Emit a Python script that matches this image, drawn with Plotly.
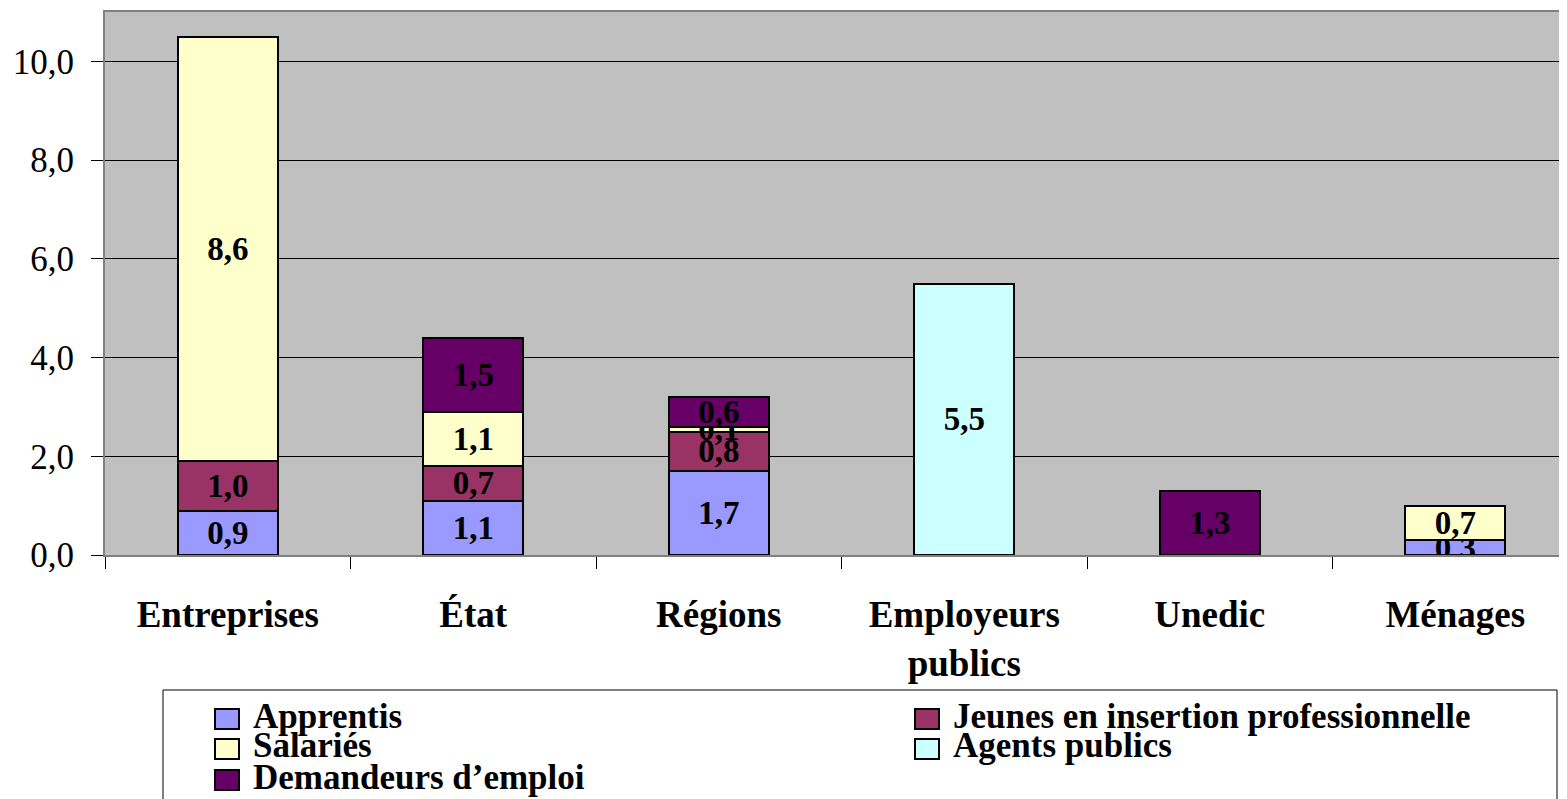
import plotly.graph_objects as go

categories = ["Entreprises", "État", "Régions", "Employeurs<br>publics", "Unedic", "Ménages"]

series_names = ["Apprentis", "Jeunes en insertion professionnelle", "Salariés",
                "Agents publics", "Demandeurs d’emploi"]
apprentis = [0.9, 1.1, 1.7, None, None, 0.3]
jeunes = [1.0, 0.7, 0.8, None, None, None]
salaries = [8.6, 1.1, 0.1, None, None, 0.7]
agents = [None, None, None, 5.5, None, None]
demandeurs = [None, 1.5, 0.6, None, 1.3, None]
series_values = [apprentis, jeunes, salaries, agents, demandeurs]
colors = ["#9999FF", "#993366", "#FFFFCC", "#CCFFFF", "#660066"]

y_ticks = [0, 2, 4, 6, 8, 10]

FONT = "Liberation Serif, Times New Roman, serif"
OFF = 8  # default page body margin
W, H = 1567 - OFF, 799 - OFF
ML, MT, MR = 105 - OFF, 12 - OFF, 0
MB = H - (555 - OFF)
PW = W - ML - MR
PH = H - MT - MB

def px_x(p):
    return (p - OFF - ML) / PW

def px_y(p):
    return (H - MB - (p - OFF)) / PH

fig = go.Figure()
for name, vals, col in zip(series_names, series_values, colors):
    fig.add_trace(go.Bar(
        x=categories, y=vals, name=name, showlegend=False,
        marker=dict(color=col, line=dict(color="black", width=2)),
        texttemplate="%{y:.1f}", textposition="inside", insidetextanchor="middle",
        constraintext="none",
        textfont=dict(family=FONT, size=33, color="black", weight="bold"),
        hoverinfo="skip",
    ))

# legend: two columns, three rows (page pixel slots for each entry's square)
legend_box_x = [215, 915, 215, 915, 215]
legend_row_y = [719, 719, 749, 749, 780]
shapes = [dict(type="rect", xref="paper", yref="paper",
               x0=px_x(163), x1=px_x(1557), y0=px_y(690), y1=px_y(840),
               line=dict(color="black", width=1), fillcolor="white", layer="above")]
annotations = []
for name, col, bx, ry in zip(series_names, colors, legend_box_x, legend_row_y):
    shapes.append(dict(type="rect", xref="paper", yref="paper",
                       x0=px_x(bx), x1=px_x(bx + 24), y0=px_y(ry - 10), y1=px_y(ry + 10),
                       line=dict(color="black", width=2), fillcolor=col, layer="above"))
    annotations.append(dict(text=name, xref="paper", yref="paper",
                            x=px_x(bx + 36), y=px_y(ry - 3), xanchor="left", yanchor="middle",
                            showarrow=False,
                            font=dict(family=FONT, size=35, color="black", weight="bold")))

fig.update_layout(
    width=W, height=H,
    margin=dict(l=ML, r=MR, t=MT, b=MB, pad=0, autoexpand=False),
    barmode="stack", bargap=0.593,
    separators=", ",
    paper_bgcolor="white", plot_bgcolor="#C0C0C0",
    font=dict(family=FONT, color="black"),
    showlegend=False,
    shapes=shapes,
    annotations=annotations,
)
fig.update_xaxes(
    range=[-0.5, 5.455], tickson="boundaries", ticks="outside", ticklen=12,
    tickcolor="black", tickwidth=1, showgrid=False, automargin=False,
    showline=True, linecolor="#808080", linewidth=2, mirror=True,
    tickfont=dict(family=FONT, size=37, color="black", weight="bold"),
    ticklabelstandoff=26,
)
fig.update_yaxes(
    range=[0, 11], tickvals=y_ticks, tickformat=".1f", automargin=False,
    ticks="outside", ticklen=12, tickcolor="black",
    showgrid=True, gridcolor="black", gridwidth=1,
    zeroline=True, zerolinecolor="black", zerolinewidth=1,
    showline=True, linecolor="#808080", linewidth=2, mirror=True,
    tickfont=dict(family=FONT, size=35, color="black"),
    ticklabelstandoff=10,
)

fig.write_html("out.html", config=dict(displayModeBar=False))
